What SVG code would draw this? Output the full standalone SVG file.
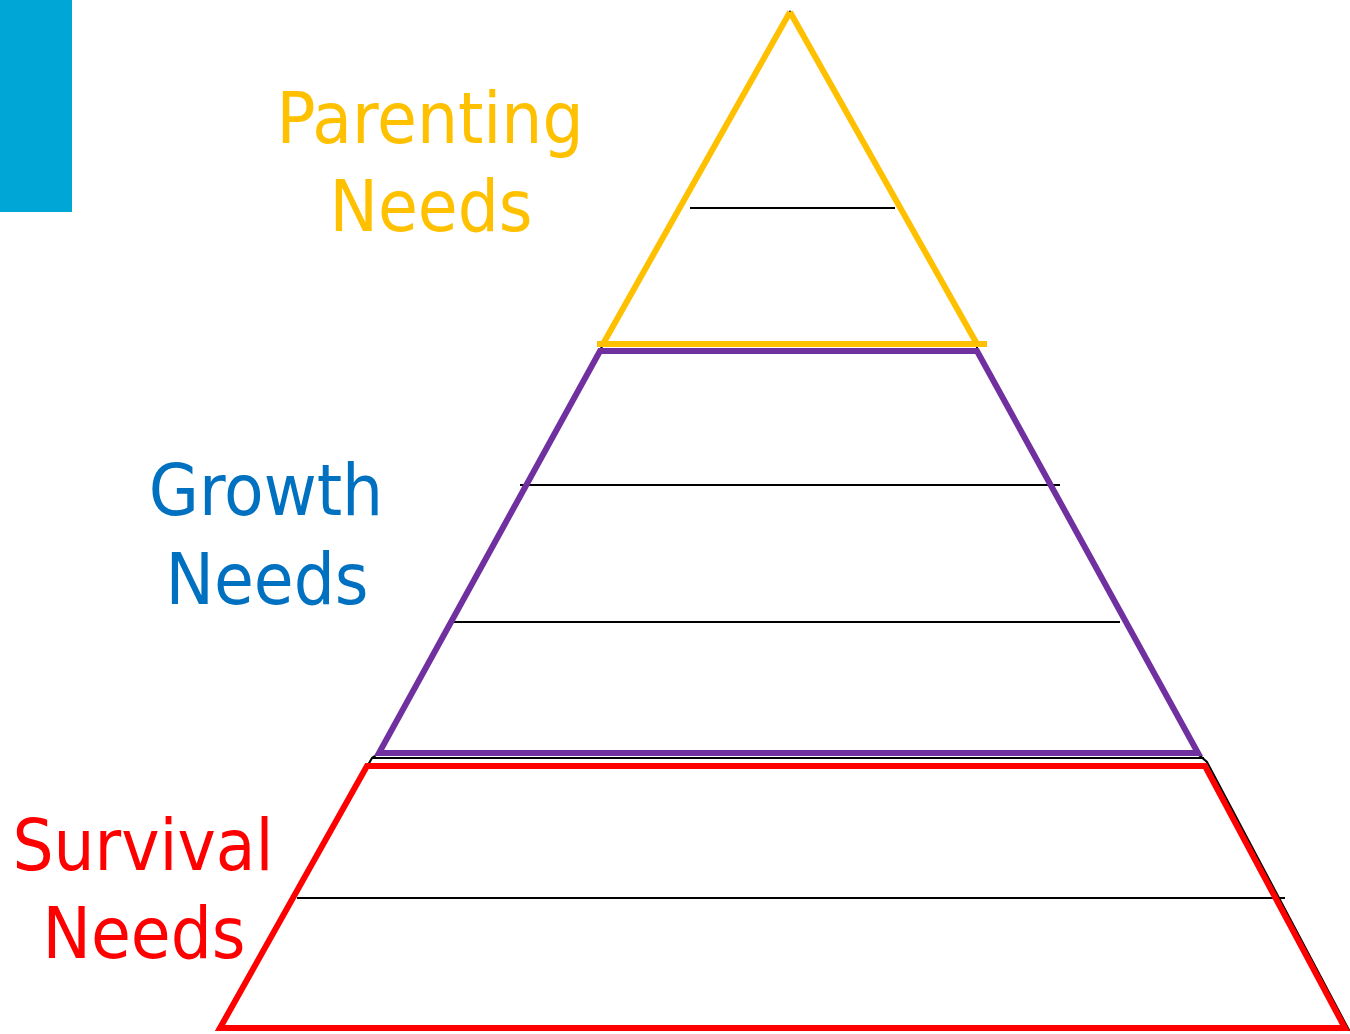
<svg xmlns="http://www.w3.org/2000/svg" width="1350" height="1034" viewBox="0 0 1350 1034">
<style>
.lbl{font-family:"DejaVu Sans Condensed","DejaVu Sans",sans-serif;font-size:72px;text-anchor:middle}
.thin{stroke:#000;stroke-width:2;fill:none}
.band{fill:none;stroke-width:6;stroke-linejoin:miter}
</style>
<rect x="0" y="0" width="72" height="212" fill="#00A6D6"/>
<g id="base-pyramid">
<path class="thin" d="M790,12 L603,344 L600,351 L379,753 L372,758 L217,1030 L1349,1030 L1207,762 L1199,755 L977,351 L977,344 Z"/>
<line class="thin" x1="690" y1="208" x2="895" y2="208"/>
<line class="thin" x1="520" y1="485" x2="1060" y2="485"/>
<line class="thin" x1="453" y1="622" x2="1120" y2="622"/>
<line class="thin" x1="372" y1="758" x2="1204" y2="758"/>
<line class="thin" x1="297" y1="898" x2="1285" y2="898"/>
</g>
<g id="growth-band">
<path class="band" stroke="#7030A0" d="M600,351 L977,351 L1198,753 L379,753 Z"/>
</g>
<g id="parenting-band">
<path class="band" stroke="#FFC000" d="M790,12 L603,344 M790,12 L977,344"/>
<line class="band" stroke="#FFC000" x1="597" y1="344" x2="987" y2="344"/>
</g>
<g id="survival-band">
<path class="band" stroke="#FF0000" d="M367,766 L1205,766 L1345,1028 L220,1028 Z"/>
</g>
<g id="label-parenting">
<text class="lbl" fill="#FFC000" x="430" y="143">Parenting</text>
<text class="lbl" fill="#FFC000" x="431" y="231">Needs</text>
</g>
<g id="label-growth">
<text class="lbl" fill="#0070C0" x="266" y="515">Growth</text>
<text class="lbl" fill="#0070C0" x="267" y="604">Needs</text>
</g>
<g id="label-survival">
<text class="lbl" fill="#FF0000" x="143" y="870">Survival</text>
<text class="lbl" fill="#FF0000" x="144" y="958">Needs</text>
</g>
</svg>
